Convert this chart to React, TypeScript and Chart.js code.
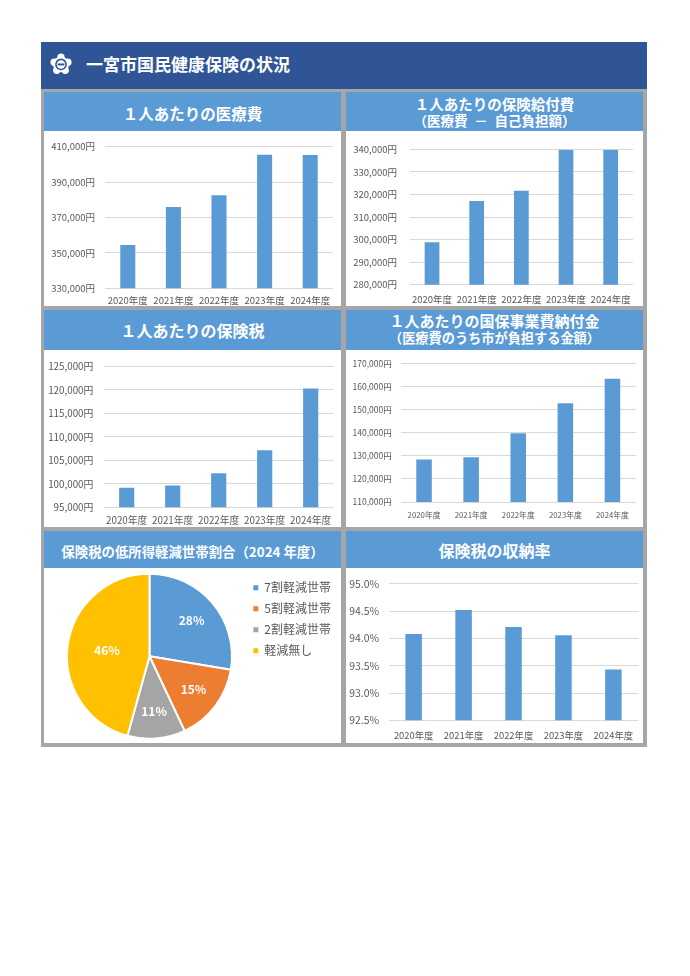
import React, { useEffect, useRef } from "react";
import { Chart, registerables } from "chart.js";

Chart.register(...registerables);

// ---------------- data ----------------
const YEARS = ["2020年度", "2021年度", "2022年度", "2023年度", "2024年度"];

const MEDICAL_COST = [354500, 375900, 382600, 405400, 405300];
const MEDICAL_AXIS = [330000, 410000, 20000];

const BENEFIT_COST = [298800, 317100, 321700, 339900, 339900];
const BENEFIT_AXIS = [280000, 340000, 10000];

const INSURANCE_TAX = [99170, 99650, 102260, 107120, 120280];
const TAX_AXIS = [95000, 125000, 5000];

const LEVY = [128460, 129430, 139900, 152930, 163580];
const LEVY_AXIS = [110000, 170000, 10000];

const COLLECTION_RATE = [94.08, 94.52, 94.21, 94.06, 93.43];
const RATE_AXIS = [92.5, 95.0, 0.5];

const PIE_LABELS = ["7割軽減世帯", "5割軽減世帯", "2割軽減世帯", "軽減無し"];
const PIE_VALUES = [27.6, 15.4, 11.3, 45.7];
const PIE_COLORS = ["#5B9BD5", "#ED7D31", "#A5A5A5", "#FFC000"];

// ---------------- style ----------------
const FONT = '"Noto Sans CJK JP", "Noto Sans", sans-serif';
const BAR_BLUE = "#5B9BD5";
const TITLE_BLUE = "#5B9BD5";
const HEADER_BLUE = "#2F5597";
const FRAME_GRAY = "#A6A6A6";
const TEXT_GRAY = "#595959";
const GRID = "#D9D9D9";
const PIE_LABEL_RADIUS = [0.67, 0.67, 0.67, 0.52];

const yen = (v: number) => v.toLocaleString("en-US") + "円";
const pct = (v: number) => v.toFixed(1) + "%";

type BarProps = {
  data: number[];
  axis: number[];
  fmt: (v: number) => string;
  box: { left: number; top: number; w: number; h: number };
  yWidth: number;
  padTop: number;
  padRight: number;
  xHeight: number;
  yPad: number;
  xPad: number;
  yFont: number;
  xFont: number;
};

function BarChart(p: BarProps) {
  const ref = useRef<HTMLCanvasElement | null>(null);
  useEffect(() => {
    if (!ref.current) return;
    const chart = new Chart(ref.current, {
      type: "bar",
      data: {
        labels: YEARS,
        datasets: [
          {
            data: p.data,
            backgroundColor: BAR_BLUE,
            categoryPercentage: 1,
            barPercentage: 0.33,
          },
        ],
      },
      options: {
        animation: false,
        responsive: true,
        maintainAspectRatio: false,
        layout: { padding: { left: 0, right: p.padRight, top: p.padTop, bottom: 0 } },
        plugins: { legend: { display: false }, tooltip: { enabled: false } },
        scales: {
          x: {
            grid: { display: false, drawTicks: false },
            border: { display: false },
            ticks: {
              color: TEXT_GRAY,
              font: { size: p.xFont, family: FONT },
              padding: p.xPad,
              maxRotation: 0,
              minRotation: 0,
              autoSkip: false,
            },
            afterFit: (s: any) => {
              s.height = p.xHeight;
            },
          },
          y: {
            min: p.axis[0],
            max: p.axis[1],
            grid: { color: GRID, lineWidth: 1, drawTicks: false },
            border: { display: false },
            ticks: {
              stepSize: p.axis[2],
              color: TEXT_GRAY,
              font: { size: p.yFont, family: FONT },
              padding: p.yPad,
              callback: (v: any) => p.fmt(Number(v)),
            },
            afterFit: (s: any) => {
              s.width = p.yWidth;
            },
          },
        },
      },
    });
    return () => chart.destroy();
  }, []);
  return (
    <div
      style={{
        position: "absolute",
        left: p.box.left,
        top: p.box.top,
        width: p.box.w,
        height: p.box.h,
        background: "#fff",
      }}
    >
      <canvas ref={ref} />
    </div>
  );
}

const pieLabelPlugin = {
  id: "pieLabels",
  afterDatasetsDraw(chart: any) {
    const ctx = chart.ctx;
    const meta = chart.getDatasetMeta(0);
    const values: number[] = chart.data.datasets[0].data;
    const total = values.reduce((a, b) => a + b, 0);
    ctx.save();
    ctx.fillStyle = "#fff";
    ctx.font = `bold 12px ${FONT}`;
    ctx.textAlign = "center";
    ctx.textBaseline = "middle";
    meta.data.forEach((arc: any, i: number) => {
      const { x, y, startAngle, endAngle, outerRadius } = arc.getProps(
        ["x", "y", "startAngle", "endAngle", "outerRadius"],
        true
      );
      const mid = (startAngle + endAngle) / 2;
      const r = outerRadius * PIE_LABEL_RADIUS[i];
      ctx.fillText(
        Math.round((values[i] / total) * 100) + "%",
        x + Math.cos(mid) * r,
        y + Math.sin(mid) * r
      );
    });
    ctx.restore();
  },
};

function PieChart({ box }: { box: { left: number; top: number; w: number; h: number } }) {
  const ref = useRef<HTMLCanvasElement | null>(null);
  useEffect(() => {
    if (!ref.current) return;
    const chart = new Chart(ref.current, {
      type: "pie",
      data: {
        labels: PIE_LABELS,
        datasets: [
          {
            data: PIE_VALUES,
            backgroundColor: PIE_COLORS,
            borderColor: "#fff",
            borderWidth: 2,
          },
        ],
      },
      options: {
        animation: false,
        responsive: true,
        maintainAspectRatio: false,
        layout: { padding: { left: 10.6, right: 0, top: 4.8, bottom: 3.2 } },
        plugins: {
          tooltip: { enabled: false },
          legend: {
            position: "right",
            align: "start",
            labels: {
              color: TEXT_GRAY,
              font: { size: 12, family: FONT },
              usePointStyle: true,
              pointStyle: "rect",
              boxWidth: 5,
              boxHeight: 5,
              padding: 9,
              generateLabels: (c: any) => {
                const items = (Chart as any).overrides.pie.plugins.legend.labels.generateLabels(c);
                items.forEach((it: any) => {
                  it.lineWidth = 0;
                  it.strokeStyle = it.fillStyle;
                });
                return items;
              },
            },
          },
        },
      },
      plugins: [pieLabelPlugin],
    });
    return () => chart.destroy();
  }, []);
  return (
    <div
      style={{
        position: "absolute",
        left: box.left,
        top: box.top,
        width: box.w,
        height: box.h,
        background: "#fff",
      }}
    >
      <canvas ref={ref} />
    </div>
  );
}

function Title({
  left,
  top,
  w,
  h,
  lines,
  sizes,
  shift,
  lineHeight,
}: {
  left: number;
  top: number;
  w: number;
  h: number;
  lines: string[];
  sizes: number[];
  shift: number;
  lineHeight?: number;
}) {
  return (
    <div
      style={{
        position: "absolute",
        left,
        top,
        width: w,
        height: h,
        background: TITLE_BLUE,
        color: "#fff",
        fontFamily: FONT,
        fontWeight: 700,
        display: "flex",
        flexDirection: "column",
        alignItems: "center",
        justifyContent: "center",
        boxSizing: "border-box",
        paddingTop: shift * 2,
      }}
    >
      {lines.map((t, i) => (
        <div
          key={i}
          style={{
            fontSize: sizes[i],
            lineHeight: (lineHeight ?? sizes[i] * 1.2) + "px",
            whiteSpace: "pre",
          }}
        >
          {t}
        </div>
      ))}
    </div>
  );
}

function Emblem() {
  const lobes = [];
  for (let i = 0; i < 5; i++) {
    const a = -Math.PI / 2 + (i * 2 * Math.PI) / 5;
    lobes.push(
      <circle key={i} cx={10 + 6.6 * Math.cos(a)} cy={10.4 + 6.6 * Math.sin(a)} r={3.3} fill="#fff" />
    );
  }
  return (
    <svg
      width={22}
      height={22}
      viewBox="0 0 20 20"
      style={{ position: "absolute", left: 49.7, top: 53.3 }}
    >
      <circle cx={10} cy={10.4} r={7.2} fill="#fff" />
      {lobes}
      <circle cx={10} cy={10.4} r={5.3} fill={HEADER_BLUE} />
      <circle cx={10} cy={10.4} r={3.9} fill="#fff" />
      <rect x={6.9} y={9.5} width={6.2} height={1.8} fill={HEADER_BLUE} />
    </svg>
  );
}

export default function App() {
  return (
    <div style={{ position: "absolute", left: 0, top: 0, width: 690, height: 976, background: "#fff" }}>
      {/* outer frame */}
      <div style={{ position: "absolute", left: 41, top: 42, width: 606, height: 705, background: FRAME_GRAY }} />
      {/* header */}
      <div style={{ position: "absolute", left: 41, top: 42, width: 606, height: 47, background: HEADER_BLUE }} />
      <Emblem />
      <div
        style={{
          position: "absolute",
          left: 86,
          top: 40,
          height: 47,
          display: "flex",
          alignItems: "center",
          color: "#fff",
          fontFamily: FONT,
          fontWeight: 700,
          fontSize: 17,
          whiteSpace: "nowrap",
        }}
      >
        一宮市国民健康保険の状況
      </div>

      {/* row 1 */}
      <Title left={44} top={92} w={297} h={39} lines={["１人あたりの医療費"]} sizes={[15.5]} shift={1.5} />
      <BarChart
        data={MEDICAL_COST}
        axis={MEDICAL_AXIS}
        fmt={yen}
        box={{ left: 44, top: 131, w: 297, h: 175 }}
        yWidth={61}
        padTop={7.3}
        padRight={8}
        xHeight={17.7}
        yPad={10}
        xPad={6}
        yFont={9.5}
        xFont={9.5}
      />
      <Title
        left={346}
        top={92}
        w={297}
        h={39}
        lines={["１人あたりの保険給付費", "（医療費\u2002－\u2002自己負担額）"]}
        sizes={[14.5, 13.5]}
        lineHeight={17.3}
        shift={0.6}
      />
      <BarChart
        data={BENEFIT_COST}
        axis={BENEFIT_AXIS}
        fmt={yen}
        box={{ left: 346, top: 131, w: 297, h: 175 }}
        yWidth={63.7}
        padTop={9.7}
        padRight={10}
        xHeight={21.3}
        yPad={12.7}
        xPad={9.3}
        yFont={9.5}
        xFont={9.5}
      />

      {/* row 2 */}
      <Title left={44} top={310} w={297} h={40} lines={["１人あたりの保険税"]} sizes={[16]} shift={1} />
      <BarChart
        data={INSURANCE_TAX}
        axis={TAX_AXIS}
        fmt={yen}
        box={{ left: 44, top: 350, w: 297, h: 177 }}
        yWidth={59.7}
        padTop={11.3}
        padRight={7.3}
        xHeight={19.7}
        yPad={10.4}
        xPad={7.1}
        yFont={9.8}
        xFont={9.8}
      />
      <Title
        left={346}
        top={310}
        w={297}
        h={40}
        lines={["１人あたりの国保事業費納付金", "（医療費のうち市が負担する金額）"]}
        sizes={[15, 13.2]}
        lineHeight={16.7}
        shift={0.2}
      />
      <BarChart
        data={LEVY}
        axis={LEVY_AXIS}
        fmt={yen}
        box={{ left: 346, top: 350, w: 297, h: 177 }}
        yWidth={54.5}
        padTop={9}
        padRight={7}
        xHeight={25}
        yPad={8.8}
        xPad={8.8}
        yFont={8.5}
        xFont={7.8}
      />

      {/* row 3 */}
      <Title
        left={44}
        top={531}
        w={297}
        h={37}
        lines={["保険税の低所得軽減世帯割合（2024 年度）"]}
        sizes={[13.4]}
        shift={1.2}
      />
      <PieChart box={{ left: 44, top: 568, w: 297, h: 175 }} />
      <Title left={346} top={531} w={297} h={37} lines={["保険税の収納率"]} sizes={[16]} shift={1} />
      <BarChart
        data={COLLECTION_RATE}
        axis={RATE_AXIS}
        fmt={pct}
        box={{ left: 346, top: 568, w: 297, h: 175 }}
        yWidth={42.7}
        padTop={11.7}
        padRight={4.3}
        xHeight={22.7}
        yPad={9.7}
        xPad={9.4}
        yFont={10.4}
        xFont={9.4}
      />
    </div>
  );
}
